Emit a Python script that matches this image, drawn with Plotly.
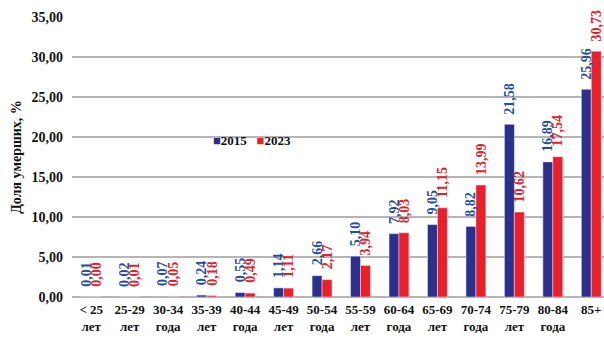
import plotly.graph_objects as go

# Age groups (two-line tick labels)
age_groups = ["< 25<br>лет", "25-29<br>лет", "30-34<br>года", "35-39<br>лет",
              "40-44<br>года", "45-49<br>лет", "50-54<br>года", "55-59<br>лет",
              "60-64<br>года", "65-69<br>лет", "70-74<br>года", "75-79<br>лет",
              "80-84<br>года", "85+"]

# Share of deaths, %
share_2015 = [0.01, 0.02, 0.07, 0.24, 0.55, 1.14, 2.66, 5.10, 7.92, 9.05, 8.82, 21.58, 16.89, 25.96]
share_2023 = [0.00, 0.01, 0.05, 0.18, 0.49, 1.11, 2.17, 3.94, 8.03, 11.15, 13.99, 10.62, 17.54, 30.73]

y_ticks = [0, 5, 10, 15, 20, 25, 30, 35]
y_tick_labels = ["0,00", "5,00", "10,00", "15,00", "20,00", "25,00", "30,00", "35,00"]

BLUE_BAR = "#2b2f8e"
RED_BAR = "#ec1f28"
BLUE_TXT = "#1f4fa2"
RED_TXT = "#e3202a"
SERIF = "Liberation Serif"


def fmt(v):
    return f"{v:.2f}".replace(".", ",")


fig = go.Figure()
fig.add_trace(go.Bar(x=age_groups, y=share_2015, name="2015", marker_color=BLUE_BAR))
fig.add_trace(go.Bar(x=age_groups, y=share_2023, name="2023", marker_color=RED_BAR))

# Rotated value labels above each bar
annotations = []
for values, color, shift in ((share_2015, BLUE_TXT, -5), (share_2023, RED_TXT, 5)):
    for cat, v in zip(age_groups, values):
        annotations.append(dict(
            x=cat, y=v, xref="x", yref="y", text=fmt(v), showarrow=False,
            textangle=-90, xanchor="center", yanchor="bottom", xshift=shift, yshift=8,
            font=dict(family=SERIF, size=14, color=color, weight="bold"),
        ))

# Compact legend
annotations.append(dict(
    xref="paper", yref="paper", x=0.262, y=0.559, xanchor="left", yanchor="middle",
    showarrow=False,
    text=(f'<span style="color:{BLUE_BAR}">■</span>2015&nbsp;&nbsp;&nbsp;'
          f'<span style="color:{RED_BAR}">■</span>2023'),
    font=dict(family=SERIF, size=13, color="#111111", weight="bold"),
))

fig.update_layout(
    width=604, height=338,
    margin=dict(l=72, r=0, t=17, b=41),
    paper_bgcolor="white", plot_bgcolor="white",
    barmode="group", bargap=0.483, bargroupgap=0,
    showlegend=False,
    annotations=annotations,
    font=dict(family=SERIF, color="#111111"),
)
fig.update_xaxes(
    type="category", range=[-0.5, 13.33], showgrid=False, showline=False,
    ticks="", tickangle=0, ticklabelstandoff=3,
    tickfont=dict(family=SERIF, size=13, color="#111111", weight="bold"),
)
fig.update_yaxes(
    range=[0, 35], tickvals=y_ticks, ticktext=y_tick_labels,
    showgrid=True, gridcolor="#b5b5b5", gridwidth=1.5,
    zeroline=True, zerolinecolor="#b5b5b5", zerolinewidth=1.5,
    showline=False, ticks="", ticklabelstandoff=8,
    tickfont=dict(family=SERIF, size=14, color="#111111", weight="bold"),
    title=dict(text="Доля умерших, %", standoff=6,
               font=dict(family=SERIF, size=14, color="#111111", weight="bold")),
)

fig.write_html("out.html")
